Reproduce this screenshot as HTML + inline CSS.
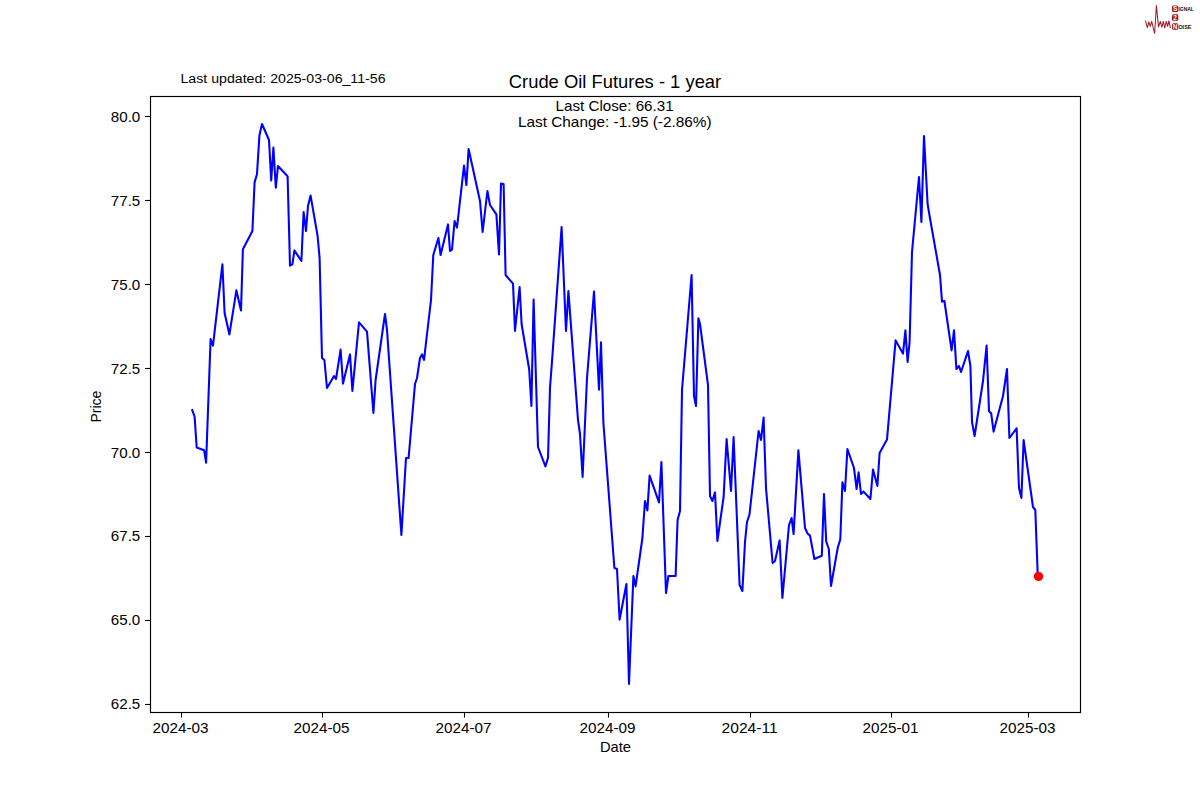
<!DOCTYPE html>
<html><head><meta charset="utf-8"><style>
html,body{margin:0;padding:0;background:#fff;}
svg{display:block;}
</style></head><body>
<svg width="1200" height="800" viewBox="0 0 1200 800">
<rect width="1200" height="800" fill="#fff"/>
<path d="M192.2 410 L194.6 416.6 L196.7 447.5 L204.1 450.3 L206.1 462.7 L210.6 339 L213 345.6 L222.4 264.4 L224.6 313 L229.4 334.4 L236.4 290.4 L241 310.4 L242.9 249.3 L252.4 231 L254.6 182.4 L257 174 L259.4 135.6 L262 124 L269 140 L271.2 180.4 L273.4 147.6 L275.8 187.6 L278 166 L286.4 175 L287.6 176.4 L290 265.6 L292.4 264.4 L294.4 250.4 L301.4 261 L303.6 212 L306 231 L308 206 L310.6 195.6 L317.6 236 L319.6 258 L322 358 L324.4 360 L327 388 L334 376 L336 379 L340.6 349.6 L343 383.6 L350 354.4 L352.4 391 L359 322.4 L367 331.6 L373.4 413 L375.6 380 L385 314 L387 330 L401.4 535 L406 458 L408.6 458 L415 384 L417 378 L420 358 L422 354.4 L424 360 L431 300 L433.3 255 L438.4 238 L440.6 255 L448 224.4 L450 251 L452 249.6 L454.6 221 L457 227.6 L464 165.6 L466.4 185 L468.6 149 L480 201 L482.6 232 L487.4 191 L490 205 L496.4 214.4 L499 254.4 L501 183.6 L503.6 184 L505.6 275 L513 283.6 L515 331 L519.6 287 L521.6 324 L529.2 369.5 L531.4 406 L533.6 299.6 L538 447 L545.4 466.4 L548 458 L550 388 L552.4 356 L561.6 227 L566 331 L568.4 291 L578 420 L580 434 L582.6 477 L587 378 L594 291.6 L599 389.6 L601 342.4 L603.4 423 L614.4 568 L617 569 L619.6 619.6 L626.4 584 L629 684 L633.4 576 L635.6 586.4 L642.4 538 L645 501 L647.4 510.4 L649.6 475.6 L659 502.4 L661.4 462 L666 593 L668.4 576 L675.6 576 L677.6 520 L680 511 L682 390 L691.6 275 L694 396 L696 406 L698.4 318.4 L700 324 L708 385 L710 496 L712.4 501 L715 492.4 L717.4 541 L723.6 497 L726.6 439 L731 491 L733.6 437 L739.6 585 L742.4 591 L745 542 L747 522 L749.5 514.5 L758.6 431 L761 440 L763.6 417.6 L766 488 L772.6 563 L775 561 L779.6 540.4 L782.4 598 L789 525 L791.6 518 L793.6 534 L798.4 450.4 L805 528 L807.6 533.6 L810 535.6 L814.4 559 L821.8 555.8 L824 494 L826.2 541.5 L828.8 549 L831 586 L837.8 547.5 L840.3 539.5 L842.4 482.4 L845 491 L847.4 449 L854 468 L856.6 489 L858.6 472.4 L861 494 L863.6 491.6 L870.4 499 L873 469.6 L877.4 486 L879.6 453 L887 439.6 L895.6 340.4 L903 353.6 L905.4 330.4 L907.6 362 L909.6 342 L912 252 L919 177 L921.4 222 L924 136 L927.6 204 L929.6 216 L940 275 L942 301.6 L944.4 301 L951.6 350.4 L954 330.4 L956.4 369 L959 366 L961 372 L968 351 L970.4 366 L972 422 L974.6 436 L983 381 L986.6 345.6 L989 411 L991.2 413.5 L993.6 431.6 L1003 396 L1007 369 L1009.4 438 L1016.6 428.4 L1019 488 L1021.4 498 L1023.6 440 L1033 507 L1035.3 510 L1037.8 576.3" fill="none" stroke="#0000ff" stroke-width="2.08" stroke-linejoin="round" stroke-linecap="square"/>
<circle cx="1038.5" cy="576.4" r="4.7" fill="#ff0000"/>
<rect x="150.5" y="96.5" width="930" height="616" fill="none" stroke="#000" stroke-width="1.15"/>
<line x1="145.1" y1="704.50" x2="150" y2="704.50" stroke="#000" stroke-width="1.1"/><text x="140.3" y="709.20" text-anchor="end" font-family="Liberation Sans, sans-serif" font-size="13.9" textLength="29.5" lengthAdjust="spacingAndGlyphs">62.5</text><line x1="145.1" y1="620.50" x2="150" y2="620.50" stroke="#000" stroke-width="1.1"/><text x="140.3" y="625.20" text-anchor="end" font-family="Liberation Sans, sans-serif" font-size="13.9" textLength="29.5" lengthAdjust="spacingAndGlyphs">65.0</text><line x1="145.1" y1="536.50" x2="150" y2="536.50" stroke="#000" stroke-width="1.1"/><text x="140.3" y="541.20" text-anchor="end" font-family="Liberation Sans, sans-serif" font-size="13.9" textLength="29.5" lengthAdjust="spacingAndGlyphs">67.5</text><line x1="145.1" y1="452.50" x2="150" y2="452.50" stroke="#000" stroke-width="1.1"/><text x="140.3" y="458.00" text-anchor="end" font-family="Liberation Sans, sans-serif" font-size="13.9" textLength="29.5" lengthAdjust="spacingAndGlyphs">70.0</text><line x1="145.1" y1="368.50" x2="150" y2="368.50" stroke="#000" stroke-width="1.1"/><text x="140.3" y="374.00" text-anchor="end" font-family="Liberation Sans, sans-serif" font-size="13.9" textLength="29.5" lengthAdjust="spacingAndGlyphs">72.5</text><line x1="145.1" y1="284.50" x2="150" y2="284.50" stroke="#000" stroke-width="1.1"/><text x="140.3" y="290.00" text-anchor="end" font-family="Liberation Sans, sans-serif" font-size="13.9" textLength="29.5" lengthAdjust="spacingAndGlyphs">75.0</text><line x1="145.1" y1="200.50" x2="150" y2="200.50" stroke="#000" stroke-width="1.1"/><text x="140.3" y="206.00" text-anchor="end" font-family="Liberation Sans, sans-serif" font-size="13.9" textLength="29.5" lengthAdjust="spacingAndGlyphs">77.5</text><line x1="145.1" y1="116.50" x2="150" y2="116.50" stroke="#000" stroke-width="1.1"/><text x="140.3" y="122.00" text-anchor="end" font-family="Liberation Sans, sans-serif" font-size="13.9" textLength="29.5" lengthAdjust="spacingAndGlyphs">80.0</text>
<line x1="181.5" y1="712" x2="181.5" y2="717.6" stroke="#000" stroke-width="1.1"/><text x="180.6" y="733" text-anchor="middle" font-family="Liberation Sans, sans-serif" font-size="13.9" textLength="56" lengthAdjust="spacingAndGlyphs">2024-03</text><line x1="322.5" y1="712" x2="322.5" y2="717.6" stroke="#000" stroke-width="1.1"/><text x="321.6" y="733" text-anchor="middle" font-family="Liberation Sans, sans-serif" font-size="13.9" textLength="56" lengthAdjust="spacingAndGlyphs">2024-05</text><line x1="464.5" y1="712" x2="464.5" y2="717.6" stroke="#000" stroke-width="1.1"/><text x="463.6" y="733" text-anchor="middle" font-family="Liberation Sans, sans-serif" font-size="13.9" textLength="56" lengthAdjust="spacingAndGlyphs">2024-07</text><line x1="608.5" y1="712" x2="608.5" y2="717.6" stroke="#000" stroke-width="1.1"/><text x="607.6" y="733" text-anchor="middle" font-family="Liberation Sans, sans-serif" font-size="13.9" textLength="56" lengthAdjust="spacingAndGlyphs">2024-09</text><line x1="750.5" y1="712" x2="750.5" y2="717.6" stroke="#000" stroke-width="1.1"/><text x="749.6" y="733" text-anchor="middle" font-family="Liberation Sans, sans-serif" font-size="13.9" textLength="56" lengthAdjust="spacingAndGlyphs">2024-11</text><line x1="891.5" y1="712" x2="891.5" y2="717.6" stroke="#000" stroke-width="1.1"/><text x="890.6" y="733" text-anchor="middle" font-family="Liberation Sans, sans-serif" font-size="13.9" textLength="56" lengthAdjust="spacingAndGlyphs">2025-01</text><line x1="1028.5" y1="712" x2="1028.5" y2="717.6" stroke="#000" stroke-width="1.1"/><text x="1027.6" y="733" text-anchor="middle" font-family="Liberation Sans, sans-serif" font-size="13.9" textLength="56" lengthAdjust="spacingAndGlyphs">2025-03</text>
<text x="615" y="87.6" text-anchor="middle" font-family="Liberation Sans, sans-serif" font-size="17.7" textLength="212.4" lengthAdjust="spacingAndGlyphs">Crude Oil Futures - 1 year</text>
<text x="614.6" y="110.6" text-anchor="middle" font-family="Liberation Sans, sans-serif" font-size="13.9" textLength="118" lengthAdjust="spacingAndGlyphs">Last Close: 66.31</text>
<text x="614.8" y="127.1" text-anchor="middle" font-family="Liberation Sans, sans-serif" font-size="13.9" textLength="193.6" lengthAdjust="spacingAndGlyphs">Last Change: -1.95 (-2.86%)</text>
<text x="180.5" y="83.2" font-family="Liberation Sans, sans-serif" font-size="12.5" textLength="205" lengthAdjust="spacingAndGlyphs">Last updated: 2025-03-06_11-56</text>
<text x="615.5" y="751.8" text-anchor="middle" font-family="Liberation Sans, sans-serif" font-size="13.9" textLength="31.1" lengthAdjust="spacingAndGlyphs">Date</text>
<text transform="translate(101,406.6) rotate(-90)" text-anchor="middle" font-family="Liberation Sans, sans-serif" font-size="13.9" textLength="32" lengthAdjust="spacingAndGlyphs">Price</text>
<g id="logo">
<path d="M1145.4 20.7 L1147.4 27.7 L1148.8 21.8 L1150.3 26.3 L1151.7 21.4 L1154.6 33.5 L1156.4 5.6 L1158.5 27 L1160.3 21.4 L1161.9 27.2 L1163.3 21.4 L1164.7 28 L1166.3 21.4 L1167.6 26.3 L1168.9 20.9 L1170.4 28.1" fill="none" stroke="#a51c28" stroke-width="1.05" stroke-linejoin="round"/>
<rect x="1172" y="5.5" width="6.3" height="6.5" rx="1.5" fill="#a0141e"/>
<rect x="1172" y="14.2" width="6.3" height="6.5" rx="1.5" fill="#a0141e"/>
<rect x="1172" y="23.2" width="6.3" height="6.5" rx="1.5" fill="#a0141e"/>
<text x="1175.15" y="11" text-anchor="middle" font-family="Liberation Sans, sans-serif" font-size="6.5" font-weight="bold" fill="#fff">S</text>
<text x="1175.15" y="19.8" text-anchor="middle" font-family="Liberation Sans, sans-serif" font-size="6.5" font-weight="bold" fill="#fff">2</text>
<text x="1175.15" y="28.8" text-anchor="middle" font-family="Liberation Sans, sans-serif" font-size="6.5" font-weight="bold" fill="#fff">N</text>
<text x="1178.4" y="11" font-family="Liberation Sans, sans-serif" font-size="5.5" font-weight="bold" fill="#111" textLength="15.5" lengthAdjust="spacingAndGlyphs">IGNAL</text>
<text x="1178.4" y="28.8" font-family="Liberation Sans, sans-serif" font-size="5.5" font-weight="bold" fill="#111" textLength="13" lengthAdjust="spacingAndGlyphs">OISE</text>
</g>
</svg>
</body></html>
